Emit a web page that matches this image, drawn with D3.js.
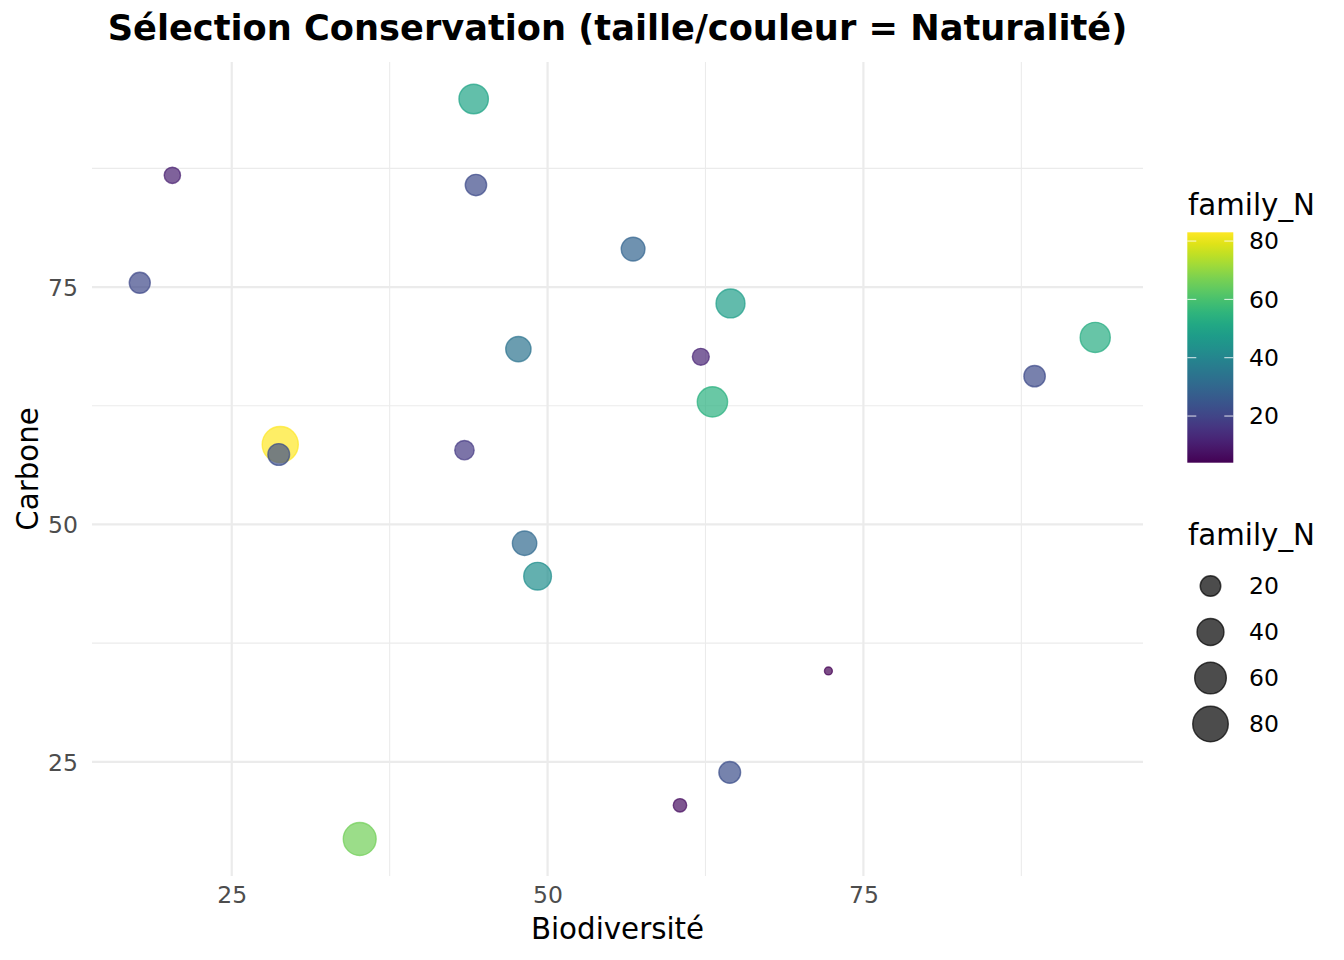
<!DOCTYPE html>
<html>
<head>
<meta charset="utf-8">
<script src="https://cdn.jsdelivr.net/npm/d3@7"></script>
<style>
  html, body { margin: 0; padding: 0; background: #fff; }
  svg { display: block; font-family: "DejaVu Sans", sans-serif; }
</style>
</head>
<body>
<svg id="chart" width="1344" height="960"></svg>
<script>
// ---- Data ----
const biodiversite = [44.15, 20.3, 44.33, 56.77, 17.72, 64.48, 93.35, 47.69, 62.13, 88.55, 63.05, 28.84, 28.72, 43.42, 48.18, 49.21, 72.23, 64.42, 60.48, 35.13];
const carbone      = [94.81, 86.77, 85.75, 79.0, 75.45, 73.28, 69.7, 68.47, 67.66, 65.62, 62.91, 58.42, 57.37, 57.82, 48.02, 44.55, 34.57, 23.89, 20.42, 16.87];
const familyN      = [50, 11, 22, 29, 21, 48, 53, 34, 12, 22, 54, 83, 23, 17, 31, 43, 4, 23, 7, 66];
const xTicks = [25, 50, 75];
const yTicks = [25, 50, 75];
const xMinor = [37.5, 62.5, 87.5];
const yMinor = [37.5, 62.5, 87.5];
const colorTicks = [20, 40, 60, 80];
const sizeTicks = [20, 40, 60, 80];
const title = "Sélection Conservation (taille/couleur = Naturalité)";
const xLabel = "Biodiversité";
const yLabel = "Carbone";
const legendTitle = "family_N";

const data = biodiversite.map((b, i) => ({ x: b, y: carbone[i], n: familyN[i] }));

// ---- Layout ----
const panel = { left: 92, right: 1143, top: 62, bottom: 876 };
const svg = d3.select("#chart");

function padded(ext) { const d = (ext[1] - ext[0]) * 0.05; return [ext[0] - d, ext[1] + d]; }
const x = d3.scaleLinear().domain(padded(d3.extent(biodiversite))).range([panel.left, panel.right]);
const y = d3.scaleLinear().domain(padded(d3.extent(carbone))).range([panel.bottom, panel.top]);
const nExt = d3.extent(familyN);
const color = d3.scaleSequential(d3.interpolateViridis).domain(nExt);
// ggplot area palette: diameter linear in sqrt of rescaled value
const diam = v => 9.3 + 28.2 * Math.sqrt((v - nExt[0]) / (nExt[1] - nExt[0]));
const SW = 1.4;

// ---- Grid ----
const grid = svg.append("g");
grid.selectAll(".xminor").data(xMinor.filter(v => v > x.domain()[0] && v < x.domain()[1])).join("line")
  .attr("x1", d => x(d)).attr("x2", d => x(d)).attr("y1", panel.top).attr("y2", panel.bottom)
  .attr("stroke", "#EBEBEB").attr("stroke-width", 1.1);
grid.selectAll(".yminor").data(yMinor.filter(v => v > y.domain()[0] && v < y.domain()[1])).join("line")
  .attr("y1", d => y(d)).attr("y2", d => y(d)).attr("x1", panel.left).attr("x2", panel.right)
  .attr("stroke", "#EBEBEB").attr("stroke-width", 1.1);
grid.selectAll(".xmajor").data(xTicks).join("line")
  .attr("x1", d => x(d)).attr("x2", d => x(d)).attr("y1", panel.top).attr("y2", panel.bottom)
  .attr("stroke", "#EBEBEB").attr("stroke-width", 2.2);
grid.selectAll(".ymajor").data(yTicks).join("line")
  .attr("y1", d => y(d)).attr("y2", d => y(d)).attr("x1", panel.left).attr("x2", panel.right)
  .attr("stroke", "#EBEBEB").attr("stroke-width", 2.2);

// ---- Axes (labels only) ----
const xAxis = svg.append("g").attr("transform", `translate(0,${panel.bottom + 6})`)
  .call(d3.axisBottom(x).tickValues(xTicks).tickSize(0).tickPadding(0));
xAxis.select(".domain").remove();
xAxis.selectAll("text").attr("font-size", 23.5).attr("fill", "#4D4D4D")
  .attr("font-family", "DejaVu Sans").attr("dy", "0.71em").attr("y", 4);

const yAxis = svg.append("g").attr("transform", `translate(${panel.left - 14},0)`)
  .call(d3.axisLeft(y).tickValues(yTicks).tickSize(0).tickPadding(0));
yAxis.select(".domain").remove();
yAxis.selectAll("text").attr("font-size", 23.5).attr("fill", "#4D4D4D")
  .attr("font-family", "DejaVu Sans").attr("dy", "0.35em").attr("x", 0);

// ---- Points ----
svg.append("g").selectAll("circle").data(data).join("circle")
  .attr("cx", d => x(d.x)).attr("cy", d => y(d.y))
  .attr("r", d => diam(d.n) / 2 - SW / 2)
  .attr("fill", d => color(d.n)).attr("fill-opacity", 0.7)
  .attr("stroke", d => color(d.n)).attr("stroke-opacity", 0.7).attr("stroke-width", SW);

// ---- Titles ----
const cx = (panel.left + panel.right) / 2;
svg.append("text").attr("x", cx).attr("y", 40).attr("text-anchor", "middle")
  .attr("font-size", 35.2).attr("font-weight", "bold").attr("fill", "#000").text(title);
svg.append("text").attr("x", cx).attr("y", 939).attr("text-anchor", "middle")
  .attr("font-size", 29.3).attr("fill", "#000").text(xLabel);
svg.append("text").attr("transform", `translate(38,${(panel.top + panel.bottom) / 2}) rotate(-90)`)
  .attr("text-anchor", "middle").attr("font-size", 29.3).attr("fill", "#000").text(yLabel);

// ---- Colour legend ----
const cb = { x: 1187.3, w: 46, top: 232.3, bottom: 462.7 };
svg.append("text").attr("x", 1188).attr("y", 215).attr("font-size", 29.3).attr("fill", "#000").text(legendTitle);
const defs = svg.append("defs");
const grad = defs.append("linearGradient").attr("id", "vir").attr("x1", 0).attr("x2", 0).attr("y1", 1).attr("y2", 0);
d3.range(0, 1.0001, 0.05).forEach(t => {
  grad.append("stop").attr("offset", t).attr("stop-color", d3.interpolateViridis(t));
});
svg.append("rect").attr("x", cb.x).attr("y", cb.top).attr("width", cb.w).attr("height", cb.bottom - cb.top)
  .attr("fill", "url(#vir)");
const cbScale = d3.scaleLinear().domain(nExt).range([cb.bottom, cb.top]);
const cbt = svg.append("g");
colorTicks.forEach(v => {
  const yy = cbScale(v);
  cbt.append("line").attr("x1", cb.x).attr("x2", cb.x + 9).attr("y1", yy).attr("y2", yy)
    .attr("stroke", "#fff").attr("stroke-opacity", 0.85).attr("stroke-width", 1);
  cbt.append("line").attr("x1", cb.x + cb.w - 9).attr("x2", cb.x + cb.w).attr("y1", yy).attr("y2", yy)
    .attr("stroke", "#fff").attr("stroke-opacity", 0.85).attr("stroke-width", 1);
  cbt.append("text").attr("x", 1249).attr("y", yy).attr("dy", "0.35em")
    .attr("font-size", 23.5).attr("fill", "#000").text(v);
});

// ---- Size legend ----
svg.append("text").attr("x", 1188).attr("y", 545).attr("font-size", 29.3).attr("fill", "#000").text(legendTitle);
const sl = svg.append("g");
sizeTicks.forEach((v, i) => {
  const yy = 586 + i * 46;
  sl.append("circle").attr("cx", 1210.5).attr("cy", yy).attr("r", diam(v) / 2 - SW / 2)
    .attr("fill", "#000").attr("fill-opacity", 0.7)
    .attr("stroke", "#000").attr("stroke-opacity", 0.7).attr("stroke-width", SW);
  sl.append("text").attr("x", 1249).attr("y", yy).attr("dy", "0.35em")
    .attr("font-size", 23.5).attr("fill", "#000").text(v);
});
</script>
</body>
</html>
